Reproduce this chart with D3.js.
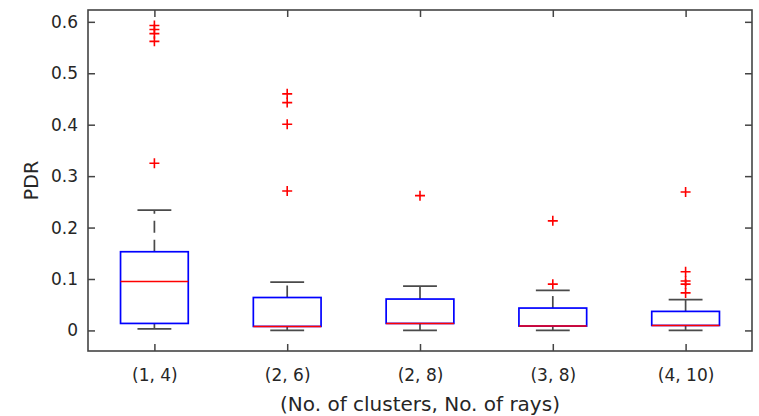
<!DOCTYPE html>
<html>
<head>
<meta charset="utf-8">
<title>PDR boxplot</title>
<script src="https://d3js.org/d3.v7.min.js"></script>
<style>
  body { margin: 0; background: #fff; }
  svg text { font-family: "DejaVu Sans", "Liberation Sans", Arial, sans-serif; fill: #262626; }
</style>
</head>
<body>
<svg id="chart" width="759" height="416"></svg>
<script>
// values
const categories = ["(1, 4)", "(2, 6)", "(2, 8)", "(3, 8)", "(4, 10)"];
const whiskerLow  = [0.003, 0, 0, 0, 0];
const q1          = [0.0136, 0.0078, 0.0136, 0.0085, 0.0097];
const median      = [0.095, 0.0078, 0.0136, 0.0085, 0.0097];
const q3          = [0.153, 0.064, 0.061, 0.0435, 0.037];
const whiskerHigh = [0.234, 0.094, 0.086, 0.078, 0.060];
const outliers = [
  [0.593, 0.585, 0.577, 0.562, 0.325],
  [0.460, 0.443, 0.401, 0.271],
  [0.262],
  [0.213, 0.090],
  [0.269, 0.114, 0.096, 0.090, 0.073]
];
const yTicks = [0, 0.1, 0.2, 0.3, 0.4, 0.5, 0.6];

const mLeft = 88, mRight = 752, mTop = 10, mBottom = 351;
const axisColor = "#444";

const svg = d3.select("#chart");

const x = d3.scalePoint(categories, [mLeft, mRight]).padding(0.5);
const y = d3.scaleLinear([-0.04, 0.623], [mBottom, mTop]);
const boxW = x.step() * 0.51;
const capW = boxW / 2;

const data = categories.map((c, i) => ({
  c: c, lo: whiskerLow[i], q1: q1[i], med: median[i], q3: q3[i], hi: whiskerHigh[i], out: outliers[i]
}));

// whiskers (dashed like matlab)
const g = svg.append("g");
g.selectAll(".wu").data(data).join("line")
  .attr("x1", d => x(d.c)).attr("x2", d => x(d.c))
  .attr("y1", d => y(d.q3)).attr("y2", d => y(d.hi))
  .attr("stroke", "#4a4a4a").attr("stroke-width", 1.7).attr("stroke-dasharray", "12,7");
g.selectAll(".wl").data(data).join("line")
  .attr("x1", d => x(d.c)).attr("x2", d => x(d.c))
  .attr("y1", d => y(d.q1)).attr("y2", d => y(d.lo))
  .attr("stroke", "#4a4a4a").attr("stroke-width", 1.7).attr("stroke-dasharray", "12,7");
// caps
["hi", "lo"].forEach(k => {
  g.selectAll(".cap-" + k).data(data).join("line")
    .attr("x1", d => x(d.c) - capW / 2).attr("x2", d => x(d.c) + capW / 2)
    .attr("y1", d => y(d[k])).attr("y2", d => y(d[k]))
    .attr("stroke", "#4a4a4a").attr("stroke-width", 1.7);
});

// boxes
g.selectAll("rect.box").data(data).join("rect")
  .attr("x", d => x(d.c) - boxW / 2).attr("width", boxW)
  .attr("y", d => y(d.q3)).attr("height", d => y(d.q1) - y(d.q3))
  .attr("fill", "none").attr("stroke", "#0000ff").attr("stroke-width", 1.7);
g.selectAll(".med").data(data).join("line")
  .attr("x1", d => x(d.c) - boxW / 2).attr("x2", d => x(d.c) + boxW / 2)
  .attr("y1", d => y(d.med)).attr("y2", d => y(d.med))
  .attr("stroke", "#ff0000").attr("stroke-width", 1.5);

// outliers as red +
const pts = data.flatMap(d => d.out.map(v => ({ c: d.c, v: v })));
const s = 5;
g.selectAll(".o").data(pts).join("path")
  .attr("d", d => `M${x(d.c) - s},${y(d.v)}H${x(d.c) + s}M${x(d.c)},${y(d.v) - s}V${y(d.v) + s}`)
  .attr("stroke", "#ff0000").attr("stroke-width", 1.6).attr("fill", "none");

// axes, ticks pointing inward on all four sides
function styleAxis(sel) {
  sel.select(".domain").remove();
  sel.selectAll(".tick line").attr("stroke", axisColor).attr("stroke-width", 1.5);
  sel.selectAll(".tick text").attr("fill", "#262626").style("font-size", "17px")
    .style("font-family", "'DejaVu Sans', 'Liberation Sans', Arial, sans-serif");
}
svg.append("g").attr("transform", `translate(${mLeft},0)`)
  .call(d3.axisLeft(y).tickValues(yTicks).tickSize(-7).tickPadding(10).tickFormat(d3.format("")))
  .call(styleAxis);
svg.append("g").attr("transform", `translate(${mRight},0)`)
  .call(d3.axisRight(y).tickValues(yTicks).tickSize(-7).tickFormat(""))
  .call(styleAxis);
svg.append("g").attr("transform", `translate(0,${mBottom})`)
  .call(d3.axisBottom(x).tickSize(-7).tickPadding(18))
  .call(styleAxis);
svg.append("g").attr("transform", `translate(0,${mTop})`)
  .call(d3.axisTop(x).tickSize(-7).tickFormat(""))
  .call(styleAxis);

svg.append("rect")
  .attr("x", mLeft).attr("y", mTop).attr("width", mRight - mLeft).attr("height", mBottom - mTop)
  .attr("fill", "none").attr("stroke", axisColor).attr("stroke-width", 1.6);

svg.append("text")
  .attr("transform", `translate(31,${(mTop + mBottom) / 2}) rotate(-90)`)
  .attr("text-anchor", "middle").attr("dy", "0.35em")
  .style("font-size", "19px").text("PDR");

svg.append("text")
  .attr("x", (mLeft + mRight) / 2).attr("y", 411)
  .attr("text-anchor", "middle")
  .style("font-size", "20px").text("(No. of clusters, No. of rays)");
</script>
</body>
</html>
